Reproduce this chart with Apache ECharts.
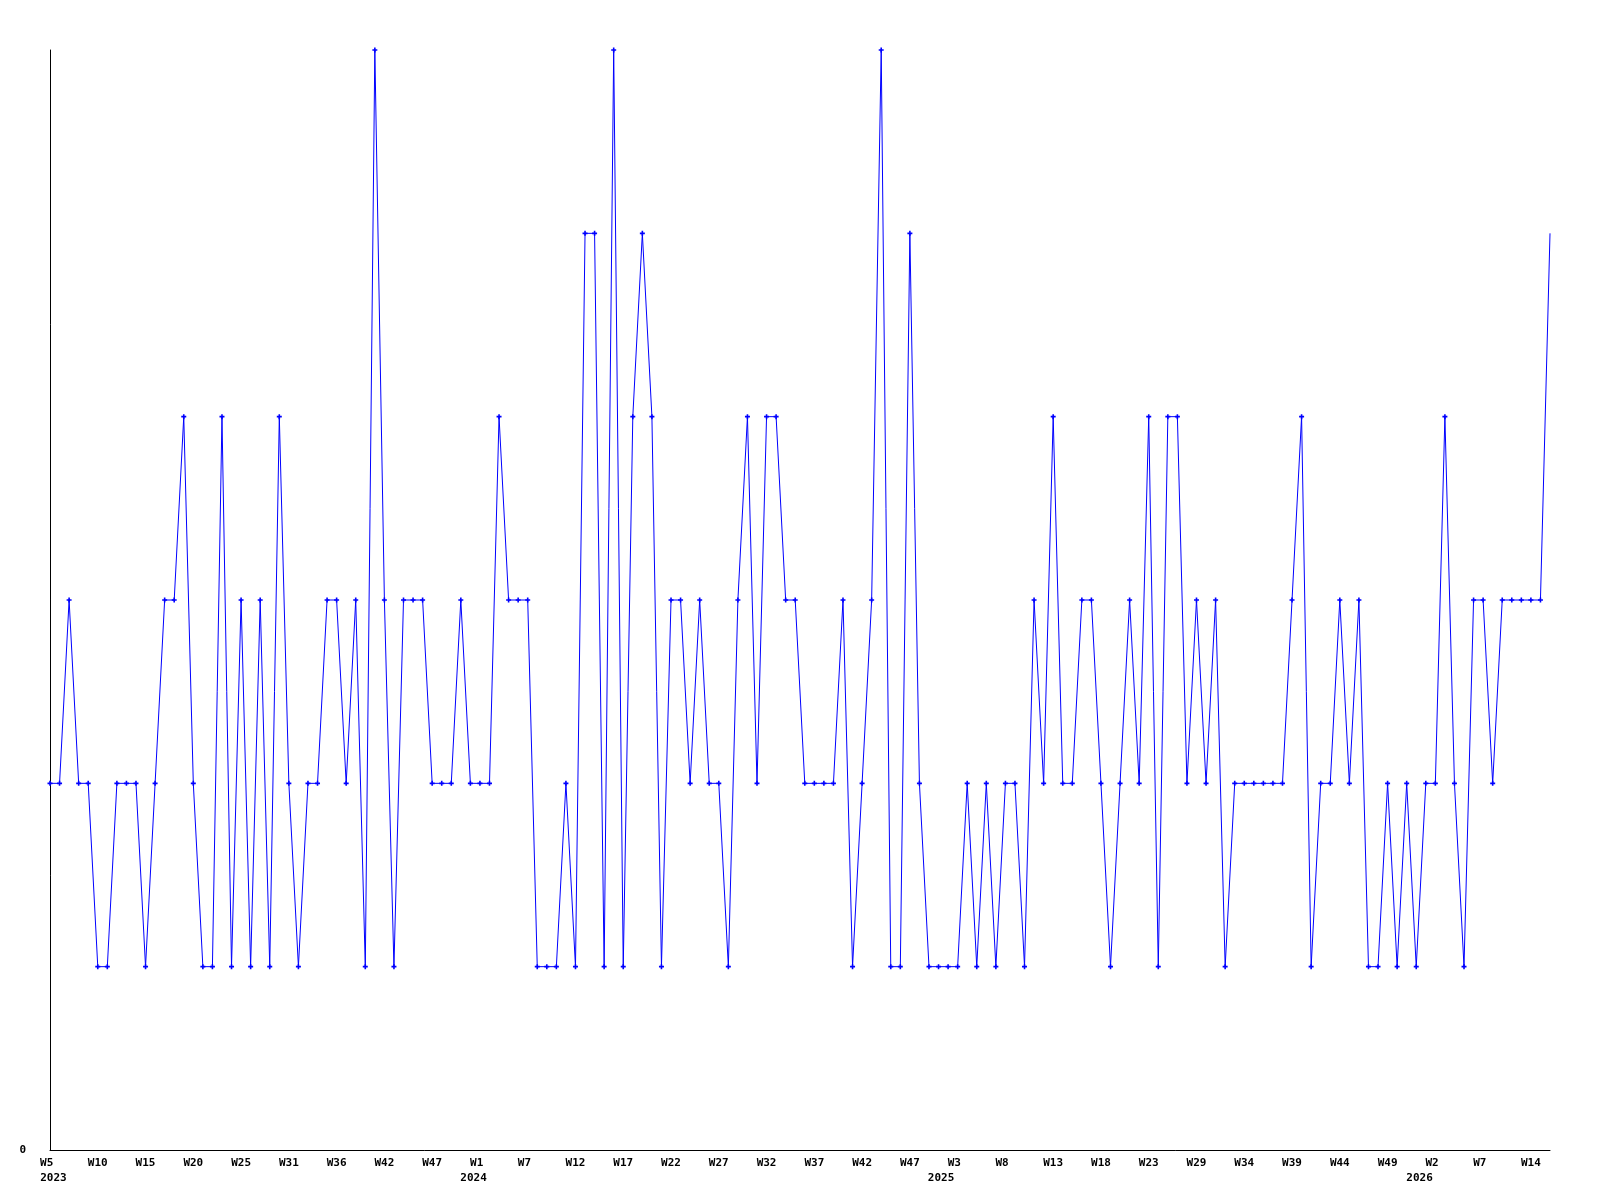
<!DOCTYPE html>
<html>
<head>
<meta charset="utf-8">
<script src="https://cdn.jsdelivr.net/npm/echarts@6/dist/echarts.min.js"></script>
<style>
  html, body { margin: 0; padding: 0; background: #ffffff; }
  #chart { width: 1600px; height: 1200px; }
</style>
</head>
<body>
<div id="chart"></div>
<script>
// Weekly values, one per point (W5 2023 onwards)
const values = [
  2,2,3,2,2,1,1,2,2,2,
  1,2,3,3,4,2,1,1,4,1,
  3,1,3,1,4,2,1,2,2,3,
  3,2,3,1,6,3,1,3,3,3,
  2,2,2,3,2,2,2,4,3,3,
  3,1,1,1,2,1,5,5,1,6,
  1,4,5,4,1,3,3,2,3,2,
  2,1,3,4,2,4,4,3,3,2,
  2,2,2,3,1,2,3,6,1,1,
  5,2,1,1,1,1,2,1,2,1,
  2,2,1,3,2,4,2,2,3,3,
  2,1,2,3,2,4,1,4,4,2,
  3,2,3,1,2,2,2,2,2,2,
  3,4,1,2,2,3,2,3,1,1,
  2,1,2,1,2,2,4,2,1,3,
  3,2,3,3,3,3,3,5
];

// Week tick labels, one every 5 points
const weekLabels = ['W5','W10','W15','W20','W25','W31','W36','W42','W47','W1','W7',
  'W12','W17','W22','W27','W32','W37','W42','W47','W3','W8','W13',
  'W18','W23','W29','W34','W39','W44','W49','W2','W7','W14'];
const labelEvery = 5;

// Year labels and the point position (index units) they sit at
const yearLabels = ['2023','2024','2025','2026'];
const yearAt = [0.36, 44.33, 93.26, 143.35];

const yMin = 0;
const yMax = 6;

const lastIdx = values.length - 1;
const seriesData = values.map((v, i) => i === lastIdx
  ? { value: [i, v], symbol: 'none' }
  : [i, v]);

const weekTickValues = weekLabels.map((_, k) => k * labelEvery);

const labelFont = {
  fontFamily: '"DejaVu Sans Mono", "Liberation Mono", monospace',
  fontWeight: 'bold',
  fontSize: 11,
  color: '#000000'
};

const chart = echarts.init(document.getElementById('chart'), null, { renderer: 'canvas' });
chart.setOption({
  animation: false,
  backgroundColor: '#ffffff',
  grid: { left: 50, top: 50, width: 1500, height: 1100, containLabel: false },
  xAxis: [
    {
      type: 'value',
      position: 'bottom',
      min: 0,
      max: lastIdx,
      axisLine: { show: true, lineStyle: { color: '#000000', width: 1 } },
      axisTick: { show: false },
      splitLine: { show: false },
      axisLabel: Object.assign({
        customValues: weekTickValues,
        margin: 8,
        align: 'center',
        formatter: function (val) {
          const k = Math.round(val / labelEvery);
          const t = weekLabels[k] || '';
          return t.length < 3 ? t + ' '.repeat(3 - t.length) : t;
        }
      }, labelFont)
    },
    {
      type: 'value',
      position: 'bottom',
      offset: 0,
      min: 0,
      max: lastIdx,
      axisLine: { show: false },
      axisTick: { show: false },
      splitLine: { show: false },
      axisLabel: Object.assign({
        customValues: yearAt,
        margin: 23,
        align: 'center',
        formatter: function (val) {
          let best = 0, bd = Infinity;
          yearAt.forEach((p, i) => { const d = Math.abs(p - val); if (d < bd) { bd = d; best = i; } });
          return yearLabels[best];
        }
      }, labelFont)
    }
  ],
  yAxis: {
    type: 'value',
    min: yMin,
    max: yMax,
    axisLine: { show: true, lineStyle: { color: '#000000', width: 1 } },
    axisTick: { show: false },
    splitLine: { show: false },
    axisLabel: Object.assign({
      customValues: [0],
      margin: 24,
      formatter: function (v) { return String(v); }
    }, labelFont)
  },
  series: [
    {
      type: 'line',
      xAxisIndex: 0,
      yAxisIndex: 0,
      data: seriesData,
      showAllSymbol: true,
      symbol: 'path://M1.7,0h1.6v1.7h1.7v1.6h-1.7v1.7h-1.6v-1.7h-1.7v-1.6h1.7z',
      symbolSize: 5,
      lineStyle: { color: '#0000ff', width: 1 },
      itemStyle: { color: '#0000ff', borderWidth: 0 },
      emphasis: { disabled: true }
    }
  ]
});
</script>
</body>
</html>
